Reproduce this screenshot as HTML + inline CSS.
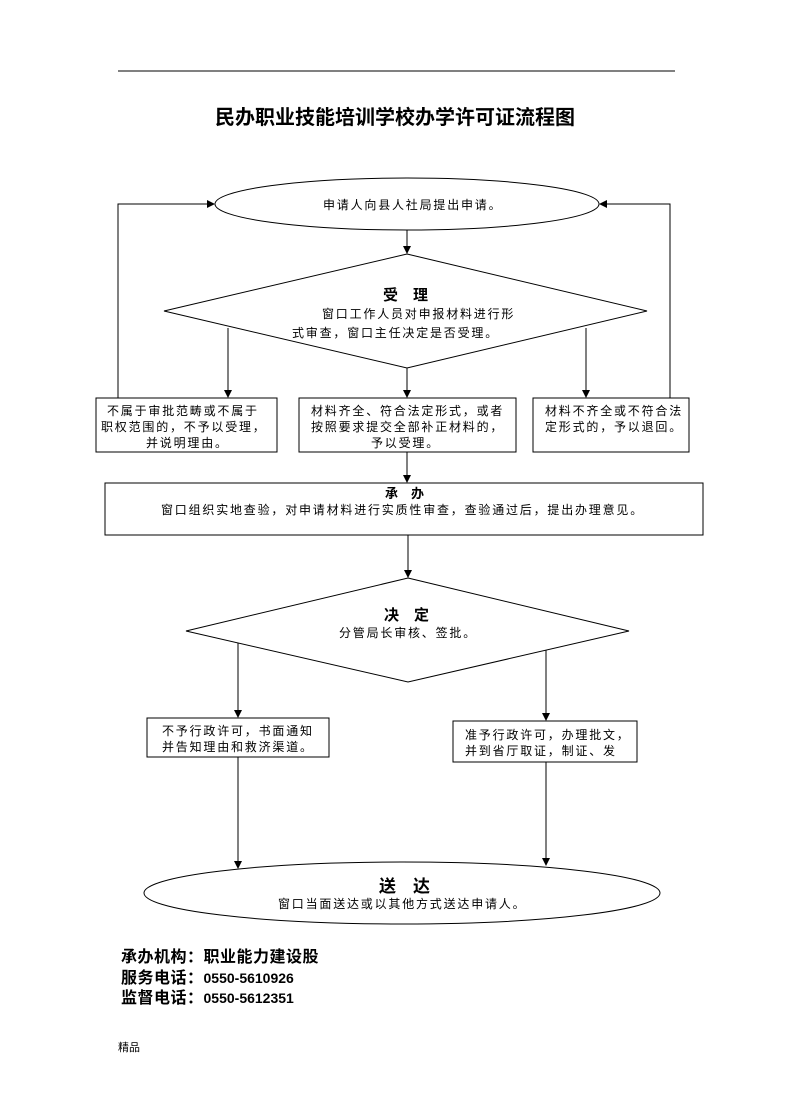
<!DOCTYPE html>
<html><head><meta charset="utf-8"><style>
html,body{margin:0;padding:0;background:#fff}
svg{display:block}
text{font-family:"Liberation Sans","Noto Sans CJK SC",sans-serif;fill:#000}
.s{font-size:12px;letter-spacing:1.8px}
.f{font-size:16px;font-weight:bold;letter-spacing:0.5px}
.d{font-size:14px;letter-spacing:0}
</style></head><body>
<svg width="792" height="1120" viewBox="0 0 792 1120">
<defs><marker id="a" markerWidth="8" markerHeight="8" refX="7" refY="4" orient="auto" markerUnits="userSpaceOnUse"><path d="M0,0 L8,4 L0,8 z" fill="#000"/></marker></defs>
<g stroke="#000" stroke-width="1" fill="none">
<line x1="118" y1="71" x2="675" y2="71"/>
<ellipse cx="407" cy="204" rx="192" ry="26"/>
<polygon points="407,254 647,311 407,368 164,311"/>
<rect x="96" y="398" width="181" height="54"/>
<rect x="299" y="398" width="217" height="54"/>
<rect x="533" y="398" width="156" height="54"/>
<rect x="105" y="483" width="598" height="52"/>
<polygon points="408,578 629,631 408,682 186,631"/>
<rect x="147" y="718" width="182" height="39"/>
<rect x="453" y="721" width="184" height="41"/>
<ellipse cx="402" cy="893" rx="258" ry="31"/>
<line x1="407" y1="230" x2="407" y2="253" marker-end="url(#a)"/>
<polyline points="118,398 118,204 214,204" marker-end="url(#a)"/>
<polyline points="670,398 670,204 600,204" marker-end="url(#a)"/>
<line x1="228" y1="328" x2="228" y2="397" marker-end="url(#a)"/>
<line x1="407" y1="368" x2="407" y2="397" marker-end="url(#a)"/>
<line x1="586" y1="328" x2="586" y2="397" marker-end="url(#a)"/>
<line x1="407" y1="452" x2="407" y2="482" marker-end="url(#a)"/>
<line x1="408" y1="535" x2="408" y2="577" marker-end="url(#a)"/>
<line x1="238" y1="643" x2="238" y2="717" marker-end="url(#a)"/>
<line x1="546" y1="650" x2="546" y2="720" marker-end="url(#a)"/>
<line x1="238" y1="757" x2="238" y2="868" marker-end="url(#a)"/>
<line x1="546" y1="762" x2="546" y2="865" marker-end="url(#a)"/>
</g>
<text x="395" y="124" font-size="20" font-weight="bold" text-anchor="middle">民办职业技能培训学校办学许可证流程图</text>
<text x="323" y="209" class="s">申请人向县人社局提出申请。</text>
<text x="383" y="300" font-size="15" font-weight="bold">受　理</text>
<text x="322" y="318" class="s">窗口工作人员对申报材料进行形</text>
<text x="292" y="337" class="s">式审查，窗口主任决定是否受理。</text>
<text x="107" y="415" class="s">不属于审批范畴或不属于</text>
<text x="101" y="431" class="s">职权范围的，不予以受理，</text>
<text x="146" y="447" class="s">并说明理由。</text>
<text x="311" y="415" class="s">材料齐全、符合法定形式，或者</text>
<text x="311" y="431" class="s">按照要求提交全部补正材料的，</text>
<text x="371" y="447" class="s">予以受理。</text>
<text x="545" y="415" class="s">材料不齐全或不符合法</text>
<text x="545" y="431" class="s">定形式的，予以退回。</text>
<text x="385" y="498" font-size="13" font-weight="bold">承　办</text>
<text x="161" y="514" class="s">窗口组织实地查验，对申请材料进行实质性审查，查验通过后，提出办理意见。</text>
<text x="384" y="620" font-size="15" font-weight="bold">决　定</text>
<text x="339" y="637" class="s">分管局长审核、签批。</text>
<text x="162" y="735" class="s">不予行政许可，书面通知</text>
<text x="162" y="751" class="s">并告知理由和救济渠道。</text>
<text x="465" y="739" class="s">准予行政许可，办理批文，</text>
<text x="465" y="755" class="s">并到省厅取证，制证、发</text>
<text x="379" y="892" font-size="17" font-weight="bold">送　达</text>
<text x="278" y="908" class="s">窗口当面送达或以其他方式送达申请人。</text>
<text x="121" y="962" class="f">承办机构：职业能力建设股</text>
<text x="121" y="983" class="f">服务电话：<tspan class="d">0550-5610926</tspan></text>
<text x="121" y="1003" class="f">监督电话：<tspan class="d">0550-5612351</tspan></text>
<text x="118" y="1051" font-size="11">精品</text>
</svg>
</body></html>
